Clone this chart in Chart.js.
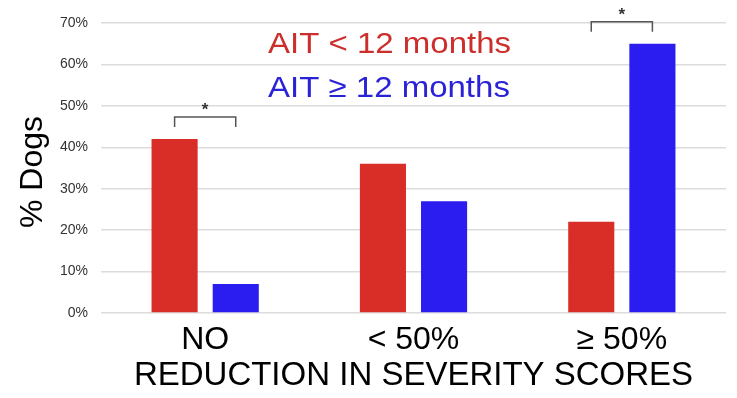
<!DOCTYPE html>
<html>
<head>
<meta charset="utf-8">
<script src="https://cdn.jsdelivr.net/npm/chart.js@4.4.1/dist/chart.umd.min.js"></script>
<style>
  html, body { margin: 0; padding: 0; background: #fff; }
  #wrap { width: 737px; height: 398px; }
</style>
</head>
<body>
<div id="wrap"><canvas id="chart" width="737" height="398"></canvas></div>
<script>
const categories = ["NO", "< 50%", "\u2265 50%"];
const seriesNames = ["AIT < 12 months", "AIT \u2265 12 months"];
const shortAIT = [42, 36, 22];
const longAIT = [7, 27, 65];
const significant = [true, false, true];
const yMax = 70;
const yStep = 10;
const xTitle = "REDUCTION IN SEVERITY SCORES";
const yTitle = "% Dogs";

const RED = "#d92e27";
const BLUE = "#2b1df0";
const FONT = "'Liberation Sans', Arial, sans-serif";

// legend, brackets and axis titles drawn by hand
const extras = {
  id: "extras",
  afterDraw(chart) {
    const ctx = chart.ctx;
    const area = chart.chartArea;
    ctx.save();

    // legend text, coloured, no boxes
    const legendColors = ["#cc2f2b", "#2a22d6"];
    chart.data.datasets.forEach((ds, i) => {
      ctx.save();
      ctx.translate(268, 53 + i * 44);
      ctx.scale(1.1, 1);
      ctx.font = "30px " + FONT;
      ctx.fillStyle = legendColors[i];
      ctx.textAlign = "left";
      ctx.textBaseline = "alphabetic";
      ctx.fillText(ds.label, 0, 0);
      ctx.restore();
    });

    // significance brackets
    const m0 = chart.getDatasetMeta(0);
    const m1 = chart.getDatasetMeta(1);
    significant.forEach((sig, i) => {
      if (!sig) return;
      const a = m0.data[i], b = m1.data[i];
      const top = Math.min(a.y, b.y);
      const yLine = top - 22;
      ctx.strokeStyle = "#555";
      ctx.lineWidth = 1.5;
      ctx.beginPath();
      ctx.moveTo(a.x, yLine + 10);
      ctx.lineTo(a.x, yLine);
      ctx.lineTo(b.x, yLine);
      ctx.lineTo(b.x, yLine + 10);
      ctx.stroke();
      ctx.fillStyle = "#333";
      ctx.font = "bold 17px " + FONT;
      ctx.textAlign = "center";
      ctx.textBaseline = "alphabetic";
      ctx.fillText("*", (a.x + b.x) / 2, yLine - 2);
    });

    // x axis title
    ctx.font = "33px " + FONT;
    ctx.fillStyle = "#000";
    ctx.textAlign = "center";
    ctx.textBaseline = "alphabetic";
    ctx.fillText(xTitle, (area.left + area.right) / 2, 385);

    // y axis title
    ctx.save();
    ctx.translate(42, (area.top + area.bottom) / 2 + 4);
    ctx.rotate(-Math.PI / 2);
    ctx.font = "32px " + FONT;
    ctx.fillStyle = "#000";
    ctx.textAlign = "center";
    ctx.textBaseline = "alphabetic";
    ctx.fillText(yTitle, 0, 0);
    ctx.restore();

    ctx.restore();
  }
};

new Chart(document.getElementById("chart"), {
  type: "bar",
  data: {
    labels: categories,
    datasets: [
      { label: seriesNames[0], data: shortAIT, backgroundColor: RED },
      { label: seriesNames[1], data: longAIT, backgroundColor: BLUE }
    ]
  },
  options: {
    responsive: false,
    animation: false,
    layout: { padding: { top: 23, right: 11, left: 0, bottom: 0 } },
    categoryPercentage: 0.587,
    barPercentage: 0.754,
    plugins: {
      legend: { display: false },
      tooltip: { enabled: false }
    },
    scales: {
      x: {
        grid: { display: false },
        border: { display: false },
        ticks: {
          color: "#000",
          font: { family: FONT, size: 32 },
          padding: 0,
          maxRotation: 0
        },
        afterFit(scale) { scale.height = 85; }
      },
      y: {
        min: 0,
        max: yMax,
        grid: { color: "#dcdcdc", lineWidth: 1.5, drawTicks: false },
        border: { display: false },
        ticks: {
          stepSize: yStep,
          color: "#333",
          font: { family: FONT, size: 14 },
          padding: 13,
          callback: (v) => v + "%"
        },
        afterFit(scale) { scale.width = 101; }
      }
    }
  },
  plugins: [extras]
});
</script>
</body>
</html>
